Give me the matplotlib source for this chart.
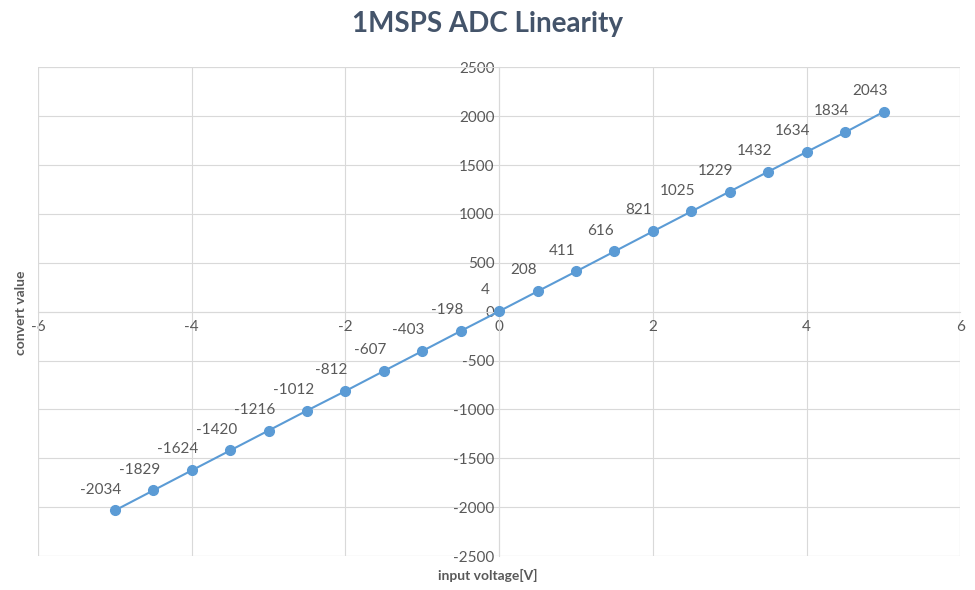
import matplotlib
matplotlib.use("Agg")
import matplotlib.pyplot as plt

plt.rcParams["font.family"] = ["Lato", "DejaVu Sans"]
plt.rcParams["axes.unicode_minus"] = False

voltage = [-5, -4.5, -4, -3.5, -3, -2.5, -2, -1.5, -1, -0.5, 0,
           0.5, 1, 1.5, 2, 2.5, 3, 3.5, 4, 4.5, 5]
counts = [-2034, -1829, -1624, -1420, -1216, -1012, -812, -607, -403, -198, 4,
          208, 411, 616, 821, 1025, 1229, 1432, 1634, 1834, 2043]

blue = "#5B9BD5"
txt = "#595959"
grid = "#D9D9D9"

fig = plt.figure(figsize=(9.75, 5.9), dpi=100)
ax = fig.add_axes([0.039, 0.0576, 0.946, 0.8284])
ax.plot(voltage, counts, color=blue, lw=1.5, marker="o", ms=7, zorder=4)
for x, y in zip(voltage, counts):
    ax.annotate(str(y), (x, y), xytext=(-10, 10), textcoords="offset points",
                ha="center", va="bottom", fontsize=11, color=txt)

ax.set_xlim(-6, 6)
ax.set_ylim(-2500, 2500)
ax.set_xticks(range(-6, 7, 2))
ax.set_yticks(range(-2500, 2501, 500))
ax.grid(True, color=grid, lw=0.8)
ax.set_axisbelow(True)
ax.spines["left"].set_position(("data", 0))
ax.spines["bottom"].set_position(("data", 0))
ax.spines["right"].set_visible(False)
ax.spines["top"].set_visible(False)
for s in ("left", "bottom"):
    ax.spines[s].set_color(grid)
ax.tick_params(length=0, labelsize=11, labelcolor=txt)
ax.tick_params(axis="x", pad=6)

# outer plot-area border
for v in (-6, 6):
    ax.axvline(v, color=grid, lw=0.8)
for h in (-2500, 2500):
    ax.axhline(h, color=grid, lw=0.8)

fig.text(0.5, 0.96, "1MSPS ADC Linearity", ha="center", va="center",
         fontsize=20, fontweight="bold", color="#44546A")
fig.text(0.5, 0.025, "input voltage[V]", ha="center", va="center",
         fontsize=10, fontweight="bold", color=txt)
fig.text(0.022, 0.47, "convert value", ha="center", va="center", rotation=90,
         fontsize=10, fontweight="bold", color=txt)

fig.savefig("out.png")
